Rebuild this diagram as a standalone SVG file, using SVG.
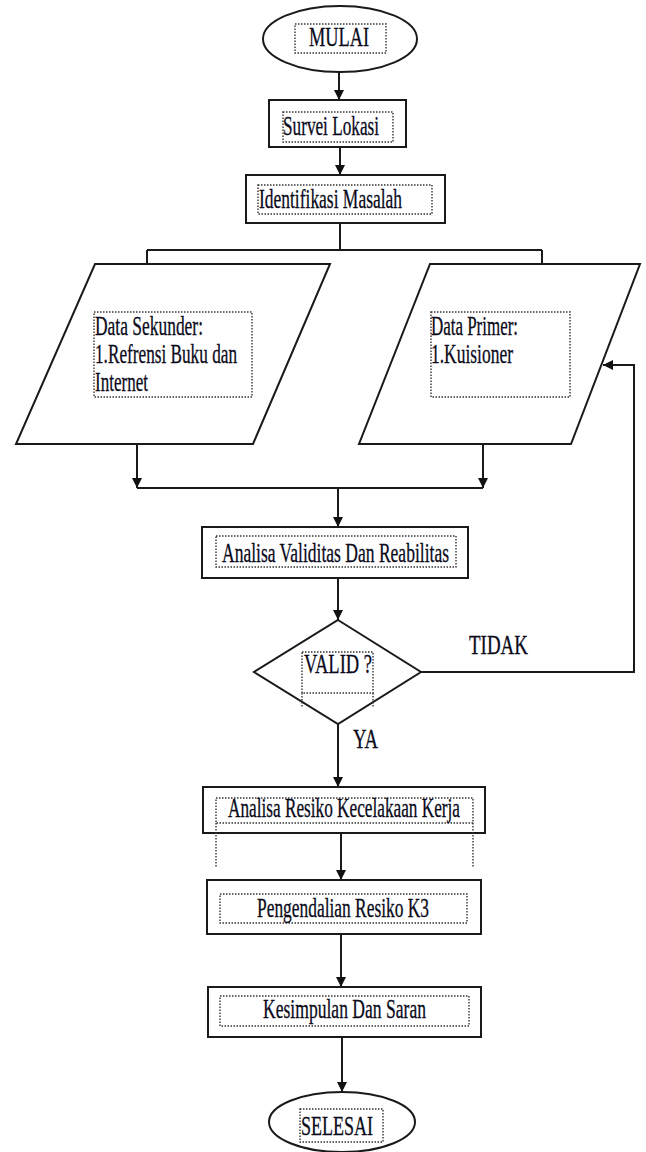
<svg xmlns="http://www.w3.org/2000/svg" width="646" height="1152" viewBox="0 0 646 1152">
<defs>
<style>
.shape{fill:#fff;stroke:#1a1a1a;stroke-width:2}
.dot{fill:none;stroke:#333;stroke-width:1.4;stroke-dasharray:1.5 1.5}
.line{fill:none;stroke:#1a1a1a;stroke-width:2}
.t{font-family:"Liberation Serif","Times New Roman",serif;font-size:27.5px;fill:#0a0a1a;stroke:#0a0a1a;stroke-width:0.3}
</style>
<marker id="ah" viewBox="0 0 10 10" refX="10" refY="5" markerWidth="10" markerHeight="11" markerUnits="userSpaceOnUse" orient="auto">
<path d="M0,0 L10,5 L0,10 z" fill="#111"/>
</marker>
</defs>
<rect width="646" height="1152" fill="#fff"/>
<g id="connectors">
<path class="line" d="M339,72 V100" marker-end="url(#ah)"/>
<path class="line" d="M340,147 V175" marker-end="url(#ah)"/>
<path class="line" d="M340,223 V250 M147,250 H542 M147,250 V264 M542,250 V264"/>
<path class="line" d="M137,444 V488" marker-end="url(#ah)"/>
<path class="line" d="M483,444 V488" marker-end="url(#ah)"/>
<path class="line" d="M137,488 H483"/>
<path class="line" d="M338,488 V527" marker-end="url(#ah)"/>
<path class="line" d="M338,578 V620" marker-end="url(#ah)"/>
<path class="line" d="M421,672 H634 V365 H603" marker-end="url(#ah)"/>
<path class="line" d="M338,724 V787" marker-end="url(#ah)"/>
<path class="line" d="M341,833 V880" marker-end="url(#ah)"/>
<path class="line" d="M341,934 V987" marker-end="url(#ah)"/>
<path class="line" d="M342,1037 V1092" marker-end="url(#ah)"/>
</g>
<g id="mulai">
<ellipse class="shape" cx="340" cy="39" rx="77" ry="33"/>
<rect class="dot" x="295" y="24" width="91" height="29"/>
<text class="t" x="309" y="46" textLength="60" lengthAdjust="spacingAndGlyphs">MULAI</text>
</g>
<g id="survei">
<rect class="shape" x="269" y="100" width="137" height="47"/>
<rect class="dot" x="283" y="112" width="110" height="30"/>
<text class="t" x="283" y="135" textLength="96" lengthAdjust="spacingAndGlyphs">Survei Lokasi</text>
</g>
<g id="identifikasi">
<rect class="shape" x="246" y="175" width="199" height="48"/>
<rect class="dot" x="258" y="185" width="174" height="29"/>
<text class="t" x="259" y="208" textLength="143" lengthAdjust="spacingAndGlyphs">Identifikasi Masalah</text>
</g>
<g id="sekunder">
<polygon class="shape" points="95,264 330,264 253,444 16,444"/>
<rect class="dot" x="94" y="312" width="158" height="85"/>
<text class="t" x="95" y="335" textLength="108" lengthAdjust="spacingAndGlyphs">Data Sekunder:</text>
<text class="t" x="95" y="363" textLength="142" lengthAdjust="spacingAndGlyphs">1.Refrensi Buku dan</text>
<text class="t" x="95" y="391" textLength="53" lengthAdjust="spacingAndGlyphs">Internet</text>
</g>
<g id="primer">
<polygon class="shape" points="430,264 640,264 571,444 359,444"/>
<rect class="dot" x="431" y="312" width="139" height="85"/>
<text class="t" x="431" y="335" textLength="87" lengthAdjust="spacingAndGlyphs">Data Primer:</text>
<text class="t" x="431" y="363" textLength="82" lengthAdjust="spacingAndGlyphs">1.Kuisioner</text>
</g>
<g id="validitas">
<rect class="shape" x="202" y="527" width="266" height="51"/>
<rect class="dot" x="216" y="536" width="240" height="31"/>
<text class="t" x="222" y="562" textLength="227" lengthAdjust="spacingAndGlyphs">Analisa Validitas Dan Reabilitas</text>
</g>
<g id="valid">
<polygon class="shape" points="338,620 421,672 338,724 254,672"/>
<rect class="dot" x="302" y="652" width="71" height="41"/>
<path class="dot" d="M302,693 V707 M373,693 V707"/>
<text class="t" x="304" y="673" textLength="68" lengthAdjust="spacingAndGlyphs">VALID ?</text>
</g>
<g id="labels">
<text class="t" x="469" y="654" textLength="59" lengthAdjust="spacingAndGlyphs">TIDAK</text>
<text class="t" x="353" y="748" textLength="25" lengthAdjust="spacingAndGlyphs">YA</text>
</g>
<g id="resiko">
<rect class="shape" x="203" y="787" width="282" height="46"/>
<rect class="dot" x="216" y="798" width="257" height="25"/>
<path class="dot" d="M216,823 V868 M473,823 V868"/>
<text class="t" x="228" y="817" textLength="232" lengthAdjust="spacingAndGlyphs">Analisa Resiko Kecelakaan Kerja</text>
</g>
<g id="pengendalian">
<rect class="shape" x="207" y="880" width="274" height="54"/>
<rect class="dot" x="220" y="894" width="247" height="29"/>
<text class="t" x="257" y="917" textLength="172" lengthAdjust="spacingAndGlyphs">Pengendalian Resiko K3</text>
</g>
<g id="kesimpulan">
<rect class="shape" x="208" y="987" width="273" height="50"/>
<rect class="dot" x="220" y="996" width="249" height="30"/>
<text class="t" x="263" y="1018" textLength="163" lengthAdjust="spacingAndGlyphs">Kesimpulan Dan Saran</text>
</g>
<g id="selesai">
<ellipse class="shape" cx="342" cy="1122" rx="73" ry="30"/>
<rect class="dot" x="300" y="1109" width="83" height="33"/>
<text class="t" x="301" y="1135" textLength="72" lengthAdjust="spacingAndGlyphs">SELESAI</text>
</g>
</svg>
